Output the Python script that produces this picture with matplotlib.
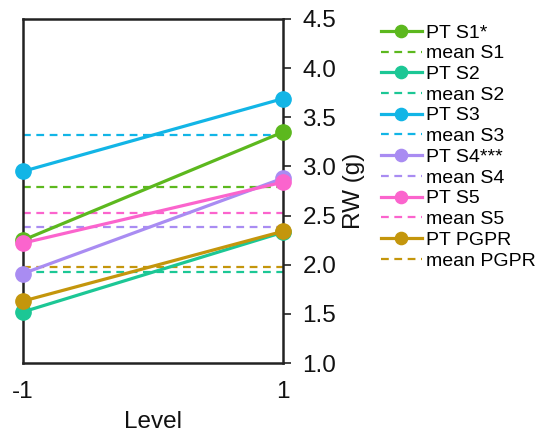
import matplotlib
matplotlib.use("Agg")
import matplotlib.pyplot as plt

plt.rcParams['font.family'] = ['Liberation Sans', 'DejaVu Sans']

levels = [-1, 1]
series_names = ["S1*", "S2", "S3", "S4***", "S5", "PGPR"]
mean_names = ["S1", "S2", "S3", "S4", "S5", "PGPR"]
pt_s1 = [2.25, 3.35]
pt_s2 = [1.52, 2.33]
pt_s3 = [2.95, 3.69]
pt_s4 = [1.91, 2.88]
pt_s5 = [2.22, 2.84]
pt_pgpr = [1.63, 2.34]
means = [2.79, 1.93, 3.32, 2.38, 2.53, 1.98]
colors = ["#5cb81e", "#1cc795", "#12b5e6", "#a98cf2", "#fb64cd", "#c4960c"]
y_ticks = [1.0, 1.5, 2.0, 2.5, 3.0, 3.5, 4.0, 4.5]

fig = plt.figure(figsize=(5.43, 4.36), dpi=100)
ax = fig.add_axes([23/543, 1-363/436, 260/543, 344/436])

all_pt = [pt_s1, pt_s2, pt_s3, pt_s4, pt_s5, pt_pgpr]
handles = []
labels = []
for name, mname, vals, m, c in zip(series_names, mean_names, all_pt, means, colors):
    l1, = ax.plot(levels, vals, color=c, lw=2.3, marker='o', ms=11, clip_on=False, zorder=3)
    l2, = ax.plot(levels, [m, m], color=c, lw=1.6, ls=(0, (3.5, 2.5)), zorder=2)
    handles += [l1, l2]
    labels += ["PT " + name, "mean " + mname]

ax.set_xlim(-1, 1)
ax.set_ylim(1.0, 4.5)
ax.set_xticks(levels)
ax.set_xticklabels(["-1", "1"])
ax.set_yticks(y_ticks)
ax.set_yticklabels([f"{v:.1f}" for v in y_ticks])
ax.yaxis.tick_right()
ax.yaxis.set_label_position("right")
ax.tick_params(axis='y', direction='out', length=6, width=1.2, labelsize=17.5, pad=8, colors='#222222', labelcolor='#111111')
ax.tick_params(axis='x', length=0, labelsize=17.5, pad=13, labelcolor='#111111')
for s in ax.spines.values():
    s.set_linewidth(1.8)
    s.set_color('#222222')
ax.set_xlabel("Level", fontsize=17.5, labelpad=6, color='#111111')
ax.set_ylabel("RW (g)", fontsize=17.5, labelpad=5, color='#111111')

leg = fig.legend(handles, labels, loc='upper left', bbox_to_anchor=(381/543, 1-24/436),
                 frameon=False, fontsize=14, handlelength=2.1, handletextpad=0.2,
                 labelspacing=0.16, borderaxespad=0, borderpad=0, markerscale=0.8)

fig.savefig("out.png", dpi=100)
